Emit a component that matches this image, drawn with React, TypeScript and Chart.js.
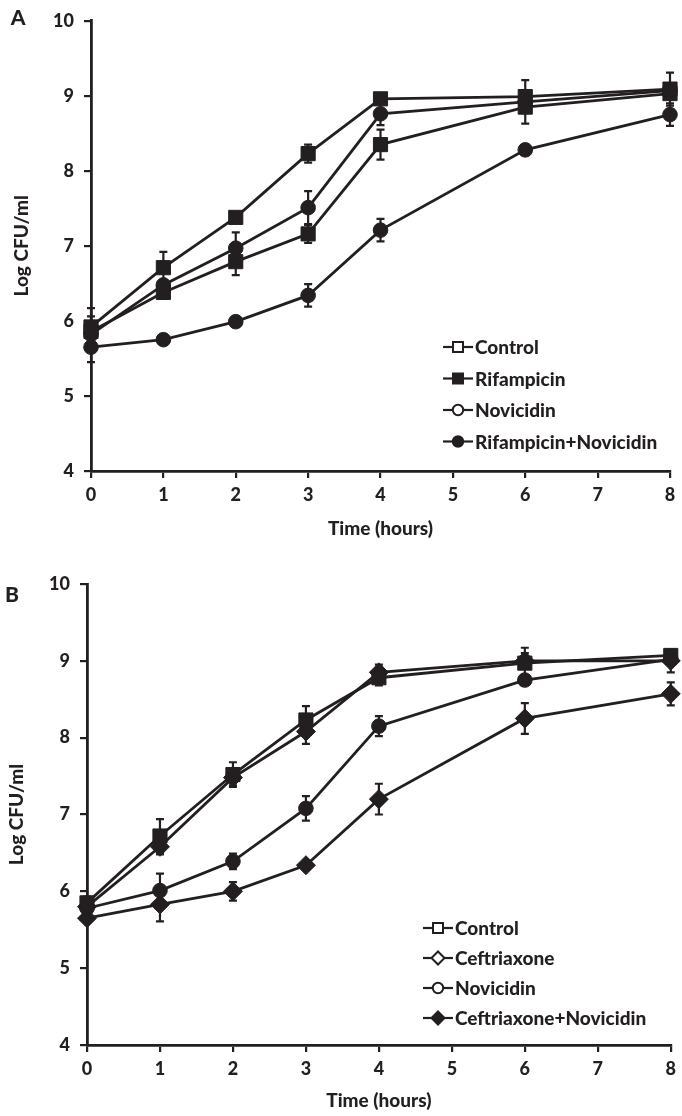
import React, { useEffect, useRef } from 'react';
import { Chart, registerables } from 'chart.js';

Chart.register(...registerables);

// ---------- data ----------
const hours = [0, 1, 2, 3, 4, 6, 8];
const xTickValues = [0, 1, 2, 3, 4, 5, 6, 7, 8];
const yTickValues = [4, 5, 6, 7, 8, 9, 10];

// Panel A
const aLabels = ['Control', 'Rifampicin', 'Novicidin', 'Rifampicin+Novicidin'];
const aControl = [5.92, 6.71, 7.38, 8.23, 8.96, 8.99, 9.09];
const aControlErr = [0.25, 0.21, 0.04, 0.12, 0.04, 0.22, 0.22];
const aRifampicin = [5.86, 6.38, 6.79, 7.16, 8.35, 8.85, 9.03];
const aRifampicinErr = [0.2, 0.06, 0.18, 0.12, 0.2, 0.22, 0.06];
const aNovicidin = [5.82, 6.48, 6.97, 7.51, 8.76, 8.92, 9.07];
const aNovicidinErr = [0.15, 0.06, 0.21, 0.22, 0.15, 0.1, 0.1];
const aCombo = [5.65, 5.75, 5.99, 6.34, 7.21, 8.28, 8.75];
const aComboErr = [0.2, 0.07, 0.07, 0.15, 0.15, 0.07, 0.15];

// Panel B
const bLabels = ['Control', 'Ceftriaxone', 'Novicidin', 'Ceftriaxone+Novicidin'];
const bControl = [5.85, 6.72, 7.52, 8.23, 8.78, 8.97, 9.07];
const bControlErr = [0.08, 0.22, 0.16, 0.18, 0.1, 0.2, 0.05];
const bCeftriaxone = [5.8, 6.58, 7.48, 8.08, 8.85, 9.0, 9.0];
const bCeftriaxoneErr = [0.08, 0.1, 0.1, 0.16, 0.1, 0.1, 0.15];
const bNovicidin = [5.78, 6.01, 6.39, 7.08, 8.15, 8.75, 9.02];
const bNovicidinErr = [0.05, 0.22, 0.1, 0.16, 0.13, 0.05, 0.05];
const bCombo = [5.65, 5.83, 6.0, 6.34, 7.2, 8.25, 8.57];
const bComboErr = [0.05, 0.22, 0.12, 0.03, 0.2, 0.2, 0.15];

const xTitle = 'Time (hours)';
const yTitle = 'Log CFU/ml';

// ---------- styles ----------
const INK = '#231f20';
const FAMILY = 'Lato, "Open Sans", sans-serif';
const WEIGHT = 900;

type Marker = { style: string; open: boolean; radius: number };

const squareOpen: Marker = { style: 'rect', open: true, radius: 10 };
const squareFilled: Marker = { style: 'rect', open: false, radius: 10 };
const circleOpen: Marker = { style: 'circle', open: true, radius: 7.3 };
const circleFilled: Marker = { style: 'circle', open: false, radius: 7.3 };
const diamondOpen: Marker = { style: 'rectRot', open: true, radius: 9.5 };
const diamondFilled: Marker = { style: 'rectRot', open: false, radius: 9.5 };

function makeDataset(label: string, values: number[], errors: number[], m: Marker) {
  return {
    label,
    data: hours.map((h, i) => ({ x: h, y: values[i] })),
    errors,
    marker: m,
    borderColor: INK,
    borderWidth: 2.8,
    pointStyle: m.style,
    pointRadius: m.radius,
    pointBackgroundColor: INK,
    pointBorderColor: INK,
    pointBorderWidth: 1,
    tension: 0,
    clip: false,
  };
}

const errorBarPlugin = {
  id: 'errorBars',
  beforeDatasetsDraw(chart: any) {
    const ctx = chart.ctx;
    const ys = chart.scales.y;
    ctx.save();
    ctx.strokeStyle = INK;
    ctx.lineWidth = 2.2;
    chart.data.datasets.forEach((ds: any, di: number) => {
      const meta = chart.getDatasetMeta(di);
      if (!ds.errors) return;
      meta.data.forEach((pt: any, i: number) => {
        const v = ds.data[i].y;
        const e = ds.errors[i];
        const top = ys.getPixelForValue(v + e);
        const bot = ys.getPixelForValue(v - e);
        ctx.beginPath();
        ctx.moveTo(pt.x, top);
        ctx.lineTo(pt.x, bot);
        ctx.moveTo(pt.x - 4, top);
        ctx.lineTo(pt.x + 4, top);
        ctx.moveTo(pt.x - 4, bot);
        ctx.lineTo(pt.x + 4, bot);
        ctx.stroke();
      });
    });
    ctx.restore();
  },
};

function drawMarker(ctx: CanvasRenderingContext2D, m: Marker, x: number, y: number) {
  ctx.beginPath();
  if (m.style === 'rect') {
    ctx.rect(x - 5, y - 5, 10, 10);
  } else if (m.style === 'circle') {
    ctx.arc(x, y, 5.2, 0, Math.PI * 2);
  } else {
    ctx.moveTo(x, y - 6.5);
    ctx.lineTo(x + 6.5, y);
    ctx.lineTo(x, y + 6.5);
    ctx.lineTo(x - 6.5, y);
    ctx.closePath();
  }
  ctx.fillStyle = m.open ? '#ffffff' : INK;
  ctx.fill();
  ctx.lineWidth = 2;
  ctx.strokeStyle = INK;
  ctx.stroke();
}

const legendPlugin = {
  id: 'panelLegend',
  afterDraw(chart: any, _args: any, opts: any) {
    const ctx = chart.ctx;
    ctx.save();
    // panel letter
    ctx.fillStyle = INK;
    ctx.font = `${WEIGHT} 21px ${FAMILY}`;
    ctx.textAlign = 'center';
    ctx.textBaseline = 'middle';
    ctx.fillText(opts.letter, opts.letterX, opts.letterY);
    // legend entries
    chart.data.datasets.forEach((ds: any, i: number) => {
      const y = opts.y + i * opts.gap;
      const x = opts.x;
      ctx.strokeStyle = INK;
      ctx.lineWidth = 2.2;
      ctx.beginPath();
      ctx.moveTo(x, y);
      ctx.lineTo(x + 30, y);
      ctx.stroke();
      drawMarker(ctx, ds.marker, x + 15, y);
      ctx.fillStyle = INK;
      ctx.font = `${WEIGHT} 19px ${FAMILY}`;
      ctx.textAlign = 'left';
      ctx.textBaseline = 'middle';
      ctx.fillText(ds.label, x + 32, y + 1);
    });
    ctx.restore();
  },
};

type PanelGeom = {
  yWidth: number;
  xHeight: number;
  padTop: number;
  padRight: number;
  yTitlePad: number;
  xTitlePad: number;
  legend: { letter: string; letterX: number; letterY: number; x: number; y: number; gap: number };
};

function makeConfig(datasets: any[], g: PanelGeom): any {
  const tickFont = { family: FAMILY, size: 18, weight: WEIGHT as any };
  const titleFont = { family: FAMILY, size: 19, weight: WEIGHT as any };
  return {
    type: 'line',
    data: { datasets },
    plugins: [errorBarPlugin, legendPlugin],
    options: {
      responsive: false,
      animation: false,
      devicePixelRatio: 1,
      layout: { padding: { top: g.padTop, right: g.padRight, left: 0, bottom: 0 } },
      plugins: {
        legend: { display: false },
        tooltip: { enabled: false },
        panelLegend: g.legend,
      },
      scales: {
        x: {
          type: 'linear',
          min: 0,
          max: 8,
          afterBuildTicks: (s: any) => {
            s.ticks = xTickValues.map((v) => ({ value: v }));
          },
          afterFit: (s: any) => {
            s.height = g.xHeight;
          },
          ticks: { font: tickFont, color: INK, padding: 6, maxRotation: 0, autoSkip: false },
          grid: { drawOnChartArea: false, drawTicks: true, tickLength: 7, color: INK, lineWidth: 2.2 },
          border: { color: INK, width: 2.8 },
          title: {
            display: true,
            text: xTitle,
            font: titleFont,
            color: INK,
            padding: { top: 0, bottom: g.xTitlePad },
          },
        },
        y: {
          type: 'linear',
          min: 4,
          max: 10,
          afterBuildTicks: (s: any) => {
            s.ticks = yTickValues.map((v) => ({ value: v }));
          },
          afterFit: (s: any) => {
            s.width = g.yWidth;
          },
          ticks: { font: tickFont, color: INK, padding: 10, autoSkip: false },
          grid: { drawOnChartArea: false, drawTicks: true, tickLength: 7, color: INK, lineWidth: 2.2 },
          border: { color: INK, width: 2.8 },
          title: {
            display: true,
            text: yTitle,
            font: titleFont,
            color: INK,
            padding: { top: g.yTitlePad, bottom: 0 },
          },
        },
      },
    },
  };
}

function ChartPanel({ config, width, height }: { config: () => any; width: number; height: number }) {
  const ref = useRef<HTMLCanvasElement>(null);
  useEffect(() => {
    const chart = new Chart(ref.current as HTMLCanvasElement, config());
    return () => chart.destroy();
  }, []);
  return <canvas ref={ref} width={width} height={height} style={{ display: 'block', width, height }} />;
}

const configA = () =>
  makeConfig(
    [
      makeDataset(aLabels[0], aControl, aControlErr, squareOpen),
      makeDataset(aLabels[1], aRifampicin, aRifampicinErr, squareFilled),
      makeDataset(aLabels[2], aNovicidin, aNovicidinErr, circleOpen),
      makeDataset(aLabels[3], aCombo, aComboErr, circleFilled),
    ],
    {
      yWidth: 91,
      xHeight: 89,
      padTop: 11,
      padRight: 12,
      yTitlePad: 10,
      xTitlePad: 20,
      legend: { letter: 'A', letterX: 18, letterY: 18, x: 443, y: 347, gap: 31.5 },
    }
  );

const configB = () =>
  makeConfig(
    [
      makeDataset(bLabels[0], bControl, bControlErr, squareOpen),
      makeDataset(bLabels[1], bCeftriaxone, bCeftriaxoneErr, diamondOpen),
      makeDataset(bLabels[2], bNovicidin, bNovicidinErr, circleOpen),
      makeDataset(bLabels[3], bCombo, bComboErr, diamondFilled),
    ],
    {
      yWidth: 87,
      xHeight: 71,
      padTop: 24,
      padRight: 11,
      yTitlePad: 5,
      xTitlePad: 4,
      legend: { letter: 'B', letterX: 12, letterY: 35, x: 423, y: 368, gap: 30 },
    }
  );

export default function App() {
  return (
    <div style={{ position: 'absolute', left: 0, top: 0, width: 682, height: 1116, background: '#ffffff' }}>
      <div style={{ position: 'absolute', left: 0, top: 0 }}>
        <ChartPanel config={configA} width={682} height={560} />
      </div>
      <div style={{ position: 'absolute', left: 0, top: 560 }}>
        <ChartPanel config={configB} width={682} height={556} />
      </div>
    </div>
  );
}
